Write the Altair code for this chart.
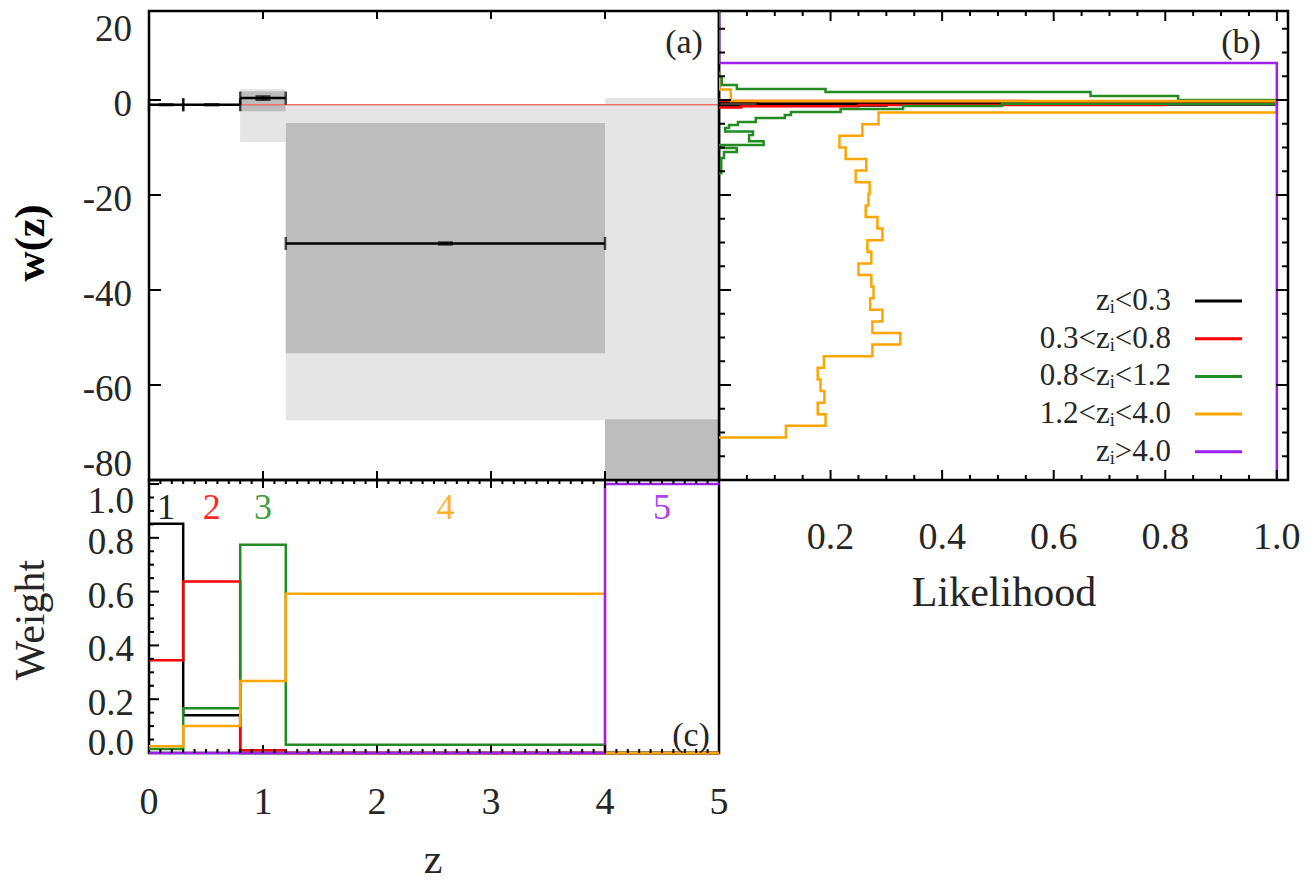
import altair as alt
import pandas as pd

FONT = "Liberation Serif"
TXT = "#262626"

# ---------------- data ----------------
series_names = ["zi<0.3", "0.3<zi<0.8", "0.8<zi<1.2", "1.2<zi<4.0", "zi>4.0"]
legend_labels = ["zᵢ<0.3", "0.3<zᵢ<0.8", "0.8<zᵢ<1.2", "1.2<zᵢ<4.0", "zᵢ>4.0"]
series_colors = ["#000000", "#ff0000", "#228b22", "#ffa500", "#a020f0"]

bin_lo = [0.0, 0.3, 0.8, 1.2, 4.0]
bin_hi = [0.3, 0.8, 1.2, 4.0, 5.0]
bin_names = ["1", "2", "3", "4", "5"]

# panel (a): reconstructed w(z) per bin
sig1_lo = [-1.06, -1.12, -2.38, -53.3, -200.0]
sig1_hi = [-0.94, -0.88, 1.83, -4.84, -67.2]
sig2_lo = [-1.12, -1.25, -8.84, -67.4, -200.0]
sig2_hi = [-0.88, -0.75, 2.3, -0.95, 0.4]
w_mean = [-1.0, -1.0, 0.4, -30.2]
w_err = [0.08, 0.1, 0.35, 0.2]
w_lcdm = -1.0

# panel (b): likelihood steps (top edge of each w interval, likelihood inside it)
lk_w = {
    "zi<0.3": [0.0, -0.53, -0.74, -0.95, -1.16],
    "0.3<zi<0.8": [0.5, -0.21, -0.48, -0.76, -1.03, -1.31, -1.58],
    "0.8<zi<1.2": [6.0, 4.63, 3.16, 2.32, 1.68, 0.84, 0.0, -0.78, -1.26, -1.89,
                   -2.53, -3.16, -3.79, -4.63, -5.26, -5.89, -6.63, -7.37, -8.69,
                   -9.47, -10.1, -10.95, -12.2, -15.4],
    "1.2<zi<4.0": [4.67, 2.23, -0.21, -2.65, -5.09, -7.54, -9.98, -12.42, -14.86,
                   -17.31, -19.75, -22.19, -24.63, -27.07, -29.52, -31.96, -34.40,
                   -36.84, -39.28, -41.73, -44.17, -46.61, -49.05, -51.49, -53.94,
                   -56.38, -58.82, -61.26, -63.71, -66.15, -68.59, -71.03],
    "zi>4.0": [20.0, 7.8, -80.0],
}
lk_L = {
    "zi<0.3": [0.0, 0.07, 1.0, 0.3, 0.0],
    "0.3<zi<0.8": [0.0, 0.55, 1.0, 0.8, 0.25, 0.04, 0.0],
    "0.8<zi<1.2": [0.0, 0.005, 0.032, 0.191, 0.666, 0.823, 1.0, 0.507, 0.33, 0.218,
                   0.129, 0.118, 0.066, 0.034, 0.018, 0.011, 0.061, 0.054, 0.080,
                   0.002, 0.032, 0.009, 0.004, 0.0],
    "1.2<zi<4.0": [0.0, 0.021, 1.0, 0.286, 0.257, 0.216, 0.227, 0.264, 0.245, 0.270,
                   0.268, 0.263, 0.284, 0.293, 0.266, 0.273, 0.250, 0.273, 0.277,
                   0.271, 0.293, 0.275, 0.325, 0.275, 0.188, 0.177, 0.182, 0.189,
                   0.177, 0.191, 0.12, 0.0],
    "zi>4.0": [0.0, 1.0, 1.0],
}

# panel (c): weights per w-bin
weights = {
    "zi<0.3": [0.852, 0.14, 0.0, 0.0, 0.0],
    "0.3<zi<0.8": [0.345, 0.638, 0.01, 0.0, 0.0],
    "0.8<zi<1.2": [0.015, 0.166, 0.774, 0.031, 0.0],
    "1.2<zi<4.0": [0.025, 0.10, 0.268, 0.592, 0.0],
    "zi>4.0": [0.0, 0.0, 0.0, 0.0, 1.0],
}

w_tick_labels = [20, 0, -20, -40, -60, -80]
z_tick_labels = [0, 1, 2, 3, 4, 5]
L_tick_labels = [0.2, 0.4, 0.6, 0.8, 1.0]
weight_tick_labels = [0.0, 0.2, 0.4, 0.6, 0.8, 1.0]

# ---------------- layout ----------------
W_A, H_A = 570, 469
W_B = 569
H_C = 273

xz = alt.Scale(domain=[0, 5], nice=False, zero=False)
yw = alt.Scale(domain=[-80, 18.74], nice=False, zero=False)
xL = alt.Scale(domain=[0, 1.02], nice=False, zero=False)
yW = alt.Scale(domain=[0, 1.015], nice=False, zero=False)
cscale = alt.Scale(domain=series_names, range=series_colors)


def rule_y(vals, scale, x0, x1, sw=2):
    return alt.Chart(pd.DataFrame({"v": vals})).mark_rule(color="black", strokeWidth=sw).encode(
        y=alt.Y("v:Q", scale=scale, axis=None), x=alt.value(x0), x2=alt.value(x1))


def rule_x(vals, scale, y0, y1, sw=2):
    return alt.Chart(pd.DataFrame({"v": vals})).mark_rule(color="black", strokeWidth=sw).encode(
        x=alt.X("v:Q", scale=scale, axis=None), y=alt.value(y0), y2=alt.value(y1))


def ylab(vals, scale, x, dy, fmt, size=37):
    return alt.Chart(pd.DataFrame({"v": vals})).transform_calculate(
        t=f"format(datum.v, '{fmt}')").transform_calculate(
        t="replace(datum.t, '\u2212', '-')").mark_text(
        align="right", baseline="middle", fontSize=size, color=TXT, dy=dy).encode(
        x=alt.value(x), y=alt.Y("v:Q", scale=scale, axis=None), text="t:N")


def xlab(vals, scale, y, fmt):
    return alt.Chart(pd.DataFrame({"v": vals})).mark_text(
        align="center", baseline="middle", fontSize=38, color=TXT).encode(
        x=alt.X("v:Q", scale=scale, axis=None), y=alt.value(y), text=alt.Text("v:Q", format=fmt))


def label(text, x, y, size=34, angle=0, color=TXT, weight="normal"):
    return alt.Chart(pd.DataFrame({"t": [text]})).mark_text(
        fontSize=size, color=color, align="center", baseline="middle", angle=angle,
        fontWeight=weight).encode(
        x=alt.value(x), y=alt.value(y), text="t:N")


# ---------- panel (a) ----------
band_df = pd.DataFrame({"lo": bin_lo, "hi": bin_hi, "s1lo": sig1_lo, "s1hi": sig1_hi,
                        "s2lo": sig2_lo, "s2hi": sig2_hi})
light = alt.Chart(band_df).mark_rect(color="#e5e5e5", clip=True).encode(
    x=alt.X("lo:Q", scale=xz, axis=None), x2="hi:Q",
    y=alt.Y("s2lo:Q", scale=yw, axis=None), y2="s2hi:Q")
dark = alt.Chart(band_df).mark_rect(color="#bdbdbd", clip=True).encode(
    x=alt.X("lo:Q", scale=xz, axis=None), x2="hi:Q",
    y=alt.Y("s1lo:Q", scale=yw, axis=None), y2="s1hi:Q")
lcdm = alt.Chart(pd.DataFrame({"w": [w_lcdm]})).mark_rule(color="#f07070", strokeWidth=1.5).encode(
    y=alt.Y("w:Q", scale=yw, axis=None), x=alt.value(0), x2=alt.value(W_A))

eb_df = pd.DataFrame({"lo": bin_lo[:4], "hi": bin_hi[:4], "w": w_mean, "e": w_err})
eb = alt.Chart(eb_df).transform_calculate(
    c="(datum.lo+datum.hi)/2", wl="datum.w-datum.e", wh="datum.w+datum.e")
hbar = eb.mark_rule(color="black", strokeWidth=2.5).encode(
    x=alt.X("lo:Q", scale=xz, axis=None), x2="hi:Q", y=alt.Y("w:Q", scale=yw, axis=None))
cap_l = eb.mark_tick(color="black", orient="vertical", size=13, thickness=2.5).encode(
    x=alt.X("lo:Q", scale=xz, axis=None), y=alt.Y("w:Q", scale=yw, axis=None))
cap_r = eb.mark_tick(color="black", orient="vertical", size=13, thickness=2.5).encode(
    x=alt.X("hi:Q", scale=xz, axis=None), y=alt.Y("w:Q", scale=yw, axis=None))
vbar = eb.mark_rule(color="black", strokeWidth=2.5).encode(
    x=alt.X("c:Q", scale=xz, axis=None), y=alt.Y("wl:Q", scale=yw, axis=None), y2="wh:Q")
vcap_l = eb.mark_tick(color="black", orient="horizontal", size=15, thickness=2.5).encode(
    x=alt.X("c:Q", scale=xz, axis=None), y=alt.Y("wl:Q", scale=yw, axis=None))
vcap_h = eb.mark_tick(color="black", orient="horizontal", size=15, thickness=2.5).encode(
    x=alt.X("c:Q", scale=xz, axis=None), y=alt.Y("wh:Q", scale=yw, axis=None))

zmaj = [1, 2, 3, 4]
panel_a = alt.layer(
    light, dark, lcdm, hbar, cap_l, cap_r, vbar, vcap_l, vcap_h,
    rule_y(w_tick_labels[1:-1], yw, 0, 12),
    rule_x(zmaj, xz, 0, 8), rule_x(zmaj, xz, H_A, H_A - 9),
    ylab(w_tick_labels[:1], yw, -17, 25, "d"),
    ylab(w_tick_labels[1:-1], yw, -17, 5, "d"),
    ylab(w_tick_labels[-1:], yw, -17, -15, "d"),
    label("w(z)", -118, 232, size=42, angle=270, color="black", weight="bold"),
    label("(a)", 535, 32),
).properties(width=W_A, height=H_A)

# ---------- panel (b) ----------
b_layers = []
for s in series_names:
    df = pd.DataFrame({"w": lk_w[s], "L": lk_L[s], "series": s,
                       "idx": list(range(len(lk_w[s])))})
    b_layers.append(
        alt.Chart(df).mark_line(interpolate="step-before", strokeWidth=2.5, clip=True).encode(
            x=alt.X("L:Q", scale=xL, axis=None),
            y=alt.Y("w:Q", scale=yw, axis=None),
            order="idx:Q",
            color=alt.Color("series:N", scale=cscale, legend=None)))

leg_df = pd.DataFrame({"series": series_names, "label": legend_labels})
leg = alt.Chart(leg_df).transform_window(rn="row_number()").transform_calculate(
    yp="290 + 37.7*(datum.rn-1)")
leg_text = leg.mark_text(align="right", baseline="middle", fontSize=31, color=TXT).encode(
    x=alt.value(452), y=alt.Y("yp:Q", scale=None), text="label:N")
leg_line = leg.mark_rule(strokeWidth=3).encode(
    x=alt.value(476), x2=alt.value(523), y=alt.Y("yp:Q", scale=None),
    color=alt.Color("series:N", scale=cscale, legend=None))

w_minor = [v for v in range(-75, 20, 5) if v % 20 != 0]
w_major = [0, -20, -40, -60]
L_minor = [round(0.05 * k, 2) for k in range(1, 21) if k % 4 != 0]
L_major = [0.2, 0.4, 0.6, 0.8, 1.0]
panel_b = alt.layer(
    *b_layers, leg_text, leg_line,
    rule_y(w_minor, yw, 0, 6), rule_y(w_major, yw, 0, 12),
    rule_y(w_minor, yw, W_B, W_B - 6), rule_y(w_major, yw, W_B, W_B - 12),
    rule_x(L_minor, xL, 0, 5), rule_x(L_major, xL, 0, 10),
    rule_x(L_minor, xL, H_A, H_A - 5), rule_x(L_major, xL, H_A, H_A - 10),
    xlab(L_tick_labels, xL, H_A + 58, ".1f"),
    label("Likelihood", 285, H_A + 113, size=42),
    label("(b)", 522, 32),
).properties(width=W_B, height=H_A)

# ---------- panel (c) ----------
z_edges = bin_lo + [bin_hi[-1]]
c_layers = []
for s in series_names:
    vals = weights[s] + [weights[s][-1]]
    df = pd.DataFrame({"z": z_edges, "wt": vals, "series": s})
    c_layers.append(
        alt.Chart(df).mark_line(interpolate="step-after", strokeWidth=2.5).encode(
            x=alt.X("z:Q", scale=xz, axis=None),
            y=alt.Y("wt:Q", scale=yW, axis=None),
            color=alt.Color("series:N", scale=cscale, legend=None)))

binlab = alt.Chart(pd.DataFrame({"name": bin_names, "lo": bin_lo, "hi": bin_hi,
                                 "series": series_names})).transform_calculate(
    c="(datum.lo+datum.hi)/2").mark_text(fontSize=36, baseline="middle", opacity=0.85).encode(
    x=alt.X("c:Q", scale=xz, axis=None), y=alt.value(28), text="name:N",
    color=alt.Color("series:N", scale=cscale, legend=None))

z_minor = [round(0.1 * k, 1) for k in range(1, 50) if k % 10 != 0]
wt_minor = [round(0.05 * k, 2) for k in range(1, 21) if k % 4 != 0]
wt_major = [0.2, 0.4, 0.6, 0.8, 1.0]
panel_c = alt.layer(
    *c_layers, binlab,
    rule_y(wt_minor, yW, 0, 5), rule_y(wt_major, yW, 0, 10),
    rule_x(z_minor, xz, H_C, H_C - 4), rule_x(zmaj, xz, H_C, H_C - 8),
    rule_x(z_minor, xz, 0, 4), rule_x(zmaj, xz, 0, 8),
    ylab(weight_tick_labels[-1:], yW, -15, 18, ".1f"),
    ylab(weight_tick_labels[1:-1], yW, -15, 5, ".1f"),
    ylab(weight_tick_labels[:1], yW, -15, -9, ".1f"),
    xlab(z_tick_labels, xz, H_C + 50, "d"),
    label("Weight", -118, 140, size=42, angle=270),
    label("z", 284, H_C + 107, size=42),
    label("(c)", 542, 256),
).properties(width=W_A, height=H_C)

chart = alt.concat(panel_a, panel_b, panel_c, columns=2, spacing=0, bounds="flush").properties(
    padding={"left": 0, "top": 0, "right": 5, "bottom": 5}
).configure(font=FONT).configure_view(stroke="black", strokeWidth=2.5)

chart.save("out.html", embed_options={"renderer": "svg", "actions": False})
